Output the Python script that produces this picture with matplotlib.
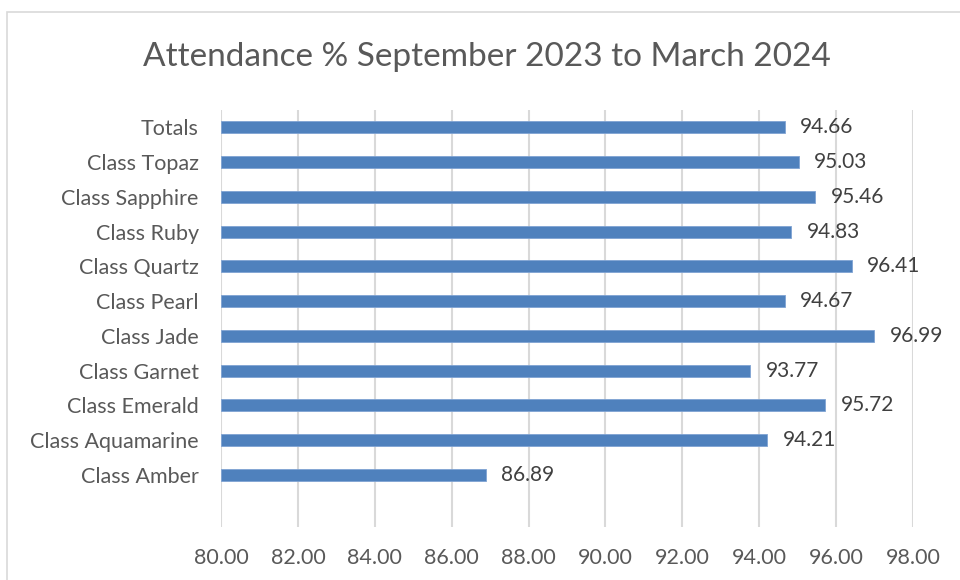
import matplotlib.pyplot as plt
from matplotlib.patches import Rectangle

classes = ['Class Amber', 'Class Aquamarine', 'Class Emerald', 'Class Garnet', 'Class Jade',
           'Class Pearl', 'Class Quartz', 'Class Ruby', 'Class Sapphire', 'Class Topaz', 'Totals']
attendance = [86.89, 94.21, 95.72, 93.77, 96.99, 94.67, 96.41, 94.83, 95.46, 95.03, 94.66]
x_ticks = [80, 82, 84, 86, 88, 90, 92, 94, 96, 98]

plt.rcParams['font.family'] = ['Lato', 'DejaVu Sans']

fig = plt.figure(figsize=(9.6, 5.8), dpi=100)
ax = fig.add_axes([221 / 960, 1 - 527 / 580, 692 / 960, 417 / 580])

# chart border like the excel chart area
fig.patches.append(Rectangle((7 / 960, -0.05), 1.1, 1 - 12 / 580 + 0.05, transform=fig.transFigure,
                             fill=False, edgecolor='#D9D9D9', linewidth=1.2))

ypos = list(range(len(classes)))
ax.barh(ypos, [a - 80 for a in attendance], left=80, height=0.35,
        color='#4F81BD', edgecolor='#7FA3D3', linewidth=0.6, zorder=3)

for y, a in zip(ypos, attendance):
    ax.annotate(f'{a:.2f}', (a, y), xytext=(11, 0), textcoords='offset points',
                va='center', ha='left', fontsize=15, color='#404040')

ax.set_xlim(80, 98)
ax.set_ylim(-1.5, 10.5)
ax.set_xticks(x_ticks)
ax.set_xticklabels([f'{t:.2f}' for t in x_ticks], fontsize=15.5, color='#595959')
ax.set_yticks(ypos)
ax.set_yticklabels(classes, fontsize=15.5, color='#595959')
ax.tick_params(axis='both', length=0)
ax.tick_params(axis='y', pad=16)
ax.tick_params(axis='x', pad=15)
ax.grid(axis='x', color='#D9D9D9', linewidth=1.5, zorder=0)
for s in ax.spines.values():
    s.set_visible(False)

fig.text(487 / 960, 1 - 57 / 580, 'Attendance % September 2023 to March 2024',
         ha='center', va='center', fontsize=24, color='#595959')

fig.savefig('out.png', dpi=100)
